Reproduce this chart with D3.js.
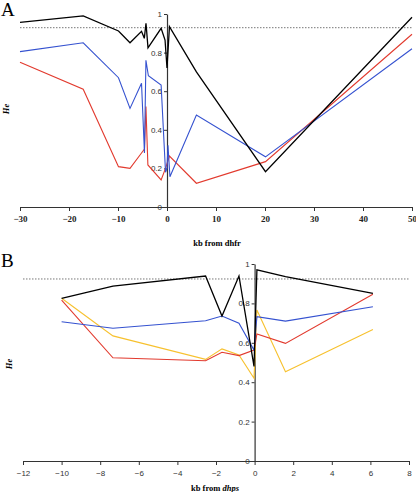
<!DOCTYPE html>
<html><head><meta charset="utf-8">
<script src="https://cdn.jsdelivr.net/npm/d3@7"></script>
<style>body{margin:0;background:#fff}svg{display:block}</style>
</head><body>
<script>
// Panel A data (kb from dhfr)
const aTicksX = [-30,-20,-10,0,10,20,30,40,50];
const aTicksY = [0,0.2,0.4,0.6,0.8,1];
const aBlackX = [-30,-17.1,-9.9,-7.55,-5.2,-4.63,-4.29,-4.2,-3.88,-1.2,-0.4,0,0.5,6,20.1,50];
const aBlackY = [0.957,0.99,0.912,0.851,0.91,0.874,0.952,0.926,0.825,0.926,0.865,0.72,0.934,0.70,0.183,0.983];
const aBlueX = [-30,-17.1,-9.9,-7.55,-5.2,-4.6,-4.3,-3.8,-1.2,-0.3,0,0.2,0.6,6,20.1,50];
const aBlueY = [0.805,0.851,0.67,0.511,0.641,0.28,0.76,0.68,0.632,0.18,0.2,0.32,0.157,0.477,0.26,0.82];
const aRedX = [-30,-17.1,-9.9,-7.55,-5.2,-4.6,-4.3,-3.9,-1.2,-0.3,0.5,6,20.1,50];
const aRedY = [0.75,0.61,0.209,0.20,0.28,0.30,0.52,0.218,0.14,0.2,0.264,0.123,0.235,0.895];
const aRef = 0.929;

// Panel B data (kb from dhps)
const bTicksX = [-12,-10,-8,-6,-4,-2,0,2,4,6,8];
const bTicksY = [0,0.2,0.4,0.6,0.8,1];
const bX = [-10,-7.34,-2.54,-1.69,-0.81,-0.03,0.12,1.6,6.13];
const bBlack = [0.826,0.888,0.939,0.736,0.939,0.48,0.97,0.936,0.851];
const bBlue = [0.707,0.674,0.712,0.736,0.699,0.563,0.733,0.71,0.783];
const bRed = [0.817,0.524,0.509,0.552,0.535,0.563,0.645,0.597,0.846];
const bYellow = [0.826,0.635,0.516,0.569,0.538,0.42,0.766,0.453,0.668];
const bRef = 0.924;

const C = {black:"#000", blue:"#3552d0", red:"#e23a2e", yellow:"#f7c12e"};

const svg = d3.select("body").append("svg").attr("width",416).attr("height",492);

function panel(o){
  const x = d3.scaleLinear().domain(o.xd).range(o.xr);
  const y = d3.scaleLinear().domain([0,1]).range(o.yr);
  const g = svg.append("g");
  // reference dotted line
  g.append("line").attr("x1",x(o.xd[0])).attr("x2",x(o.xd[1]))
    .attr("y1",y(o.ref)).attr("y2",y(o.ref))
    .attr("stroke","#777").attr("stroke-width",1).attr("stroke-dasharray","1.5,1.5");
  // x axis
  const xa = g.append("g").attr("transform",`translate(0,${y(0)})`)
    .call(d3.axisBottom(x).tickValues(o.tx).tickSize(4).tickSizeOuter(0).tickPadding(5).tickFormat(d3.format("d")));
  xa.selectAll("text").attr("font-family",o.xfont).attr("font-size",o.xfs).attr("font-weight",o.xfw).attr("fill",o.xcol);
  // y axis
  const ya = g.append("g").attr("transform",`translate(${x(0)},0)`)
    .call(d3.axisLeft(y).tickValues(o.ty).tickSize(3).tickSizeOuter(0).tickPadding(2).tickFormat(d=>d===0?"0":d===1?"1":d3.format(".1f")(d)));
  ya.selectAll("text").attr("font-family","Liberation Sans, Arial, sans-serif").attr("font-size",8).attr("fill","#333");
  g.selectAll(".domain").attr("stroke","#333").attr("stroke-width",1.2);
  g.selectAll(".tick line").attr("stroke","#333");
  const line = d3.line().x(d=>x(d[0])).y(d=>y(d[1]));
  o.series.forEach(s=>{
    g.append("path").datum(d3.zip(s.x,s.y)).attr("d",line)
      .attr("fill","none").attr("stroke",s.c).attr("stroke-width",s.w||1.1).attr("stroke-linejoin","miter");
  });
  return {x,y,g};
}

panel({xd:[-30,50], xr:[20,412], yr:[207,14], ref:aRef, tx:aTicksX, ty:aTicksY,
  xfont:"Liberation Serif, Times New Roman, serif", xfs:9, xfw:"bold", xcol:"#222",
  series:[
    {x:aRedX,y:aRedY,c:C.red},
    {x:aBlueX,y:aBlueY,c:C.blue},
    {x:aBlackX,y:aBlackY,c:C.black,w:1.3}
  ]});

panel({xd:[-12,8], xr:[23,409], yr:[461,264], ref:bRef, tx:bTicksX, ty:bTicksY,
  xfont:"Liberation Sans, Arial, sans-serif", xfs:8, xfw:"normal", xcol:"#333",
  series:[
    {x:bX,y:bYellow,c:C.yellow},
    {x:bX,y:bRed,c:C.red},
    {x:bX,y:bBlue,c:C.blue},
    {x:bX,y:bBlack,c:C.black,w:1.3}
  ]});

// Labels
const serif = "Liberation Serif, Times New Roman, serif";
svg.append("text").attr("x",1).attr("y",16).attr("font-family",serif).attr("font-size",19).text("A");
svg.append("text").attr("x",1).attr("y",267).attr("font-family",serif).attr("font-size",19).text("B");
svg.append("text").attr("x",217).attr("y",246).attr("text-anchor","middle").attr("font-family",serif)
  .attr("font-size",8.5).attr("font-weight","bold").text("kb from dhfr");
const tb = svg.append("text").attr("x",215).attr("y",491).attr("text-anchor","middle").attr("font-family",serif)
  .attr("font-size",8.5).attr("font-weight","bold");
tb.append("tspan").text("kb from ");
tb.append("tspan").attr("font-style","italic").text("dhps");
svg.append("text").attr("transform","translate(9,109) rotate(-90)").attr("text-anchor","middle")
  .attr("font-family",serif).attr("font-size",8.5).attr("font-weight","bold").attr("font-style","italic").text("He");
svg.append("text").attr("transform","translate(12,364) rotate(-90)").attr("text-anchor","middle")
  .attr("font-family",serif).attr("font-size",8.5).attr("font-weight","bold").attr("font-style","italic").text("He");
</script>
</body></html>
